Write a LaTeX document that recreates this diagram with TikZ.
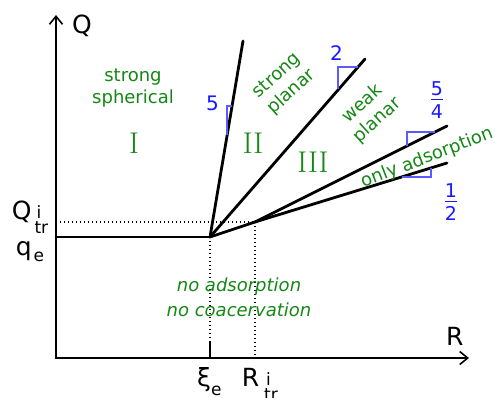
\documentclass[tikz,border=0pt]{standalone}
\usepackage{amsmath}
\usepackage{fontspec}
\setsansfont{DejaVu Sans}
\usetikzlibrary{arrows.meta}
\definecolor{grn}{RGB}{20,135,20}
\definecolor{blu}{RGB}{25,25,255}
\definecolor{tri}{RGB}{90,90,255}
\newcommand\scr{\fontsize{17}{17}\selectfont}
\newcommand\supsub[3]{\hspace{#1}\makebox[0pt][l]{\hspace{2pt}\raisebox{1pt}{\scr #2}}\raisebox{-14pt}{\scr #3}}
\newcommand\lowsub[3]{\hspace{#1}\raisebox{-#2}{\scr #3}}
\newcommand\sfrac[2]{$\genfrac{}{}{1.5pt}{1}{\mbox{\rule[-2pt]{0pt}{2pt}#1}}{\mbox{\rule{0pt}{16.5pt}#2}}$}
\begin{document}
\begin{tikzpicture}[x=1pt,y=-1pt,
  axis/.style={line width=2pt, line join=miter, {Straight Barb[length=8pt,width=13pt,line width=1.6pt]}-{Straight Barb[length=8pt,width=13pt,line width=1.6pt]}},
  bound/.style={line width=2.8pt, line cap=round},
  guide/.style={line width=1.3pt, dash pattern=on 1.3pt off 2.7pt},
  slopetri/.style={draw=tri, line width=1.2pt},
  axlabel/.style={font=\sffamily\fontsize{25}{25}\selectfont, inner sep=0pt, anchor=base west},
  region/.style={text=grn, font=\sffamily\fontsize{18}{22}\selectfont, align=center, inner sep=0pt},
  regionit/.style={text=grn, font=\sffamily\itshape\fontsize{18}{25}\selectfont, align=center, inner sep=0pt},
  numeral/.style={text=grn, font=\rmfamily\fontsize{30}{30}\selectfont, inner sep=0pt},
  slopelbl/.style={text=blu, font=\sffamily\fontsize{20}{20}\selectfont, inner sep=0pt},
  fraclbl/.style={text=blu, font=\sffamily\fontsize{19}{19}\selectfont, inner sep=0pt, anchor=base},
]
\useasboundingbox (0,0) rectangle (495,397);
% key points
\coordinate (O) at (56,358);
\coordinate (Ytop) at (56,15);
\coordinate (Xend) at (469,358);
\coordinate (Q0) at (56,237);
\coordinate (E) at (210,237);
\coordinate (T) at (255,222);
\coordinate (Qtr0) at (60,222);
\coordinate (L1) at (243,41);
\coordinate (L2) at (365,59);
\coordinate (L3) at (447,126);
\coordinate (L4) at (447,163);
\coordinate (tickTop) at (210,341);
\coordinate (tickBot) at (210,358);
\coordinate (Rtr0) at (255,358);

% guides
\draw[guide] (Qtr0) -- (T);
\draw[guide] (E) -- (tickTop);
\draw[guide] (T) -- (Rtr0);
\draw[line width=1.6pt] (tickTop) -- (tickBot);

% axes
\draw[axis] (Ytop) -- (O) -- (Xend);

% boundaries
\draw[bound] (Q0) -- (E);
\draw[bound] (E) -- (L1);
\draw[bound] (E) -- (L2);
\draw[bound] (E) -- (T) -- (L3);
\draw[bound] (T) -- (L4);

% slope triangles
\draw[slopetri] (232,106) -- (227,106) -- (227,135);
\draw[slopetri] (358,67) -- (338,67) -- (338,89);
\draw[slopetri] (435,132) -- (407,132) -- (407,146);
\draw[slopetri] (402,177) -- (431,177) -- (431,168);

% slope labels
\node[slopelbl] (s5) at (212.5,103.5) {5};
\node[slopelbl] (s2) at (336.5,53.5) {2};
\node[fraclbl] (s54) at (437,103.75) {\sfrac{5}{4}};
\node[fraclbl] (s12) at (451,205.75) {\sfrac{1}{2}};

% axis labels
\node[axlabel] (Qlab) at (72,33) {Q};
\node[axlabel] (Rlab) at (446,345) {R};
\node[axlabel] (Qtrlab) at (11.7,219.5) {Q\supsub{3pt}{i}{tr}};
\node[axlabel] (qelab) at (15.6,255) {q\lowsub{2pt}{6.5pt}{e}};
\node[axlabel] (xilab) at (197,386) {ξ\lowsub{0pt}{9pt}{e}};
\node[axlabel] (Rtrlab) at (241.6,386) {R\supsub{5pt}{i}{tr}};

% region texts
\node[region] (sph) at (133,88) {strong\\spherical};
\node[region, rotate=42] (spl) at (284.5,84) {strong\\planar};
\node[region, rotate=42] (wpl) at (370,112) {weak\\planar};
\node[region, rotate=21] (oad) at (427,158) {only adsorption};
\node[regionit] (noad) at (239,297.5) {no adsorption\\no coacervation};

\node[numeral] (r1) at (134,143) {I};
\node[numeral] (r2) at (253,143) {II};
\node[numeral] (r3) at (313,162) {III};
\end{tikzpicture}
\end{document}
